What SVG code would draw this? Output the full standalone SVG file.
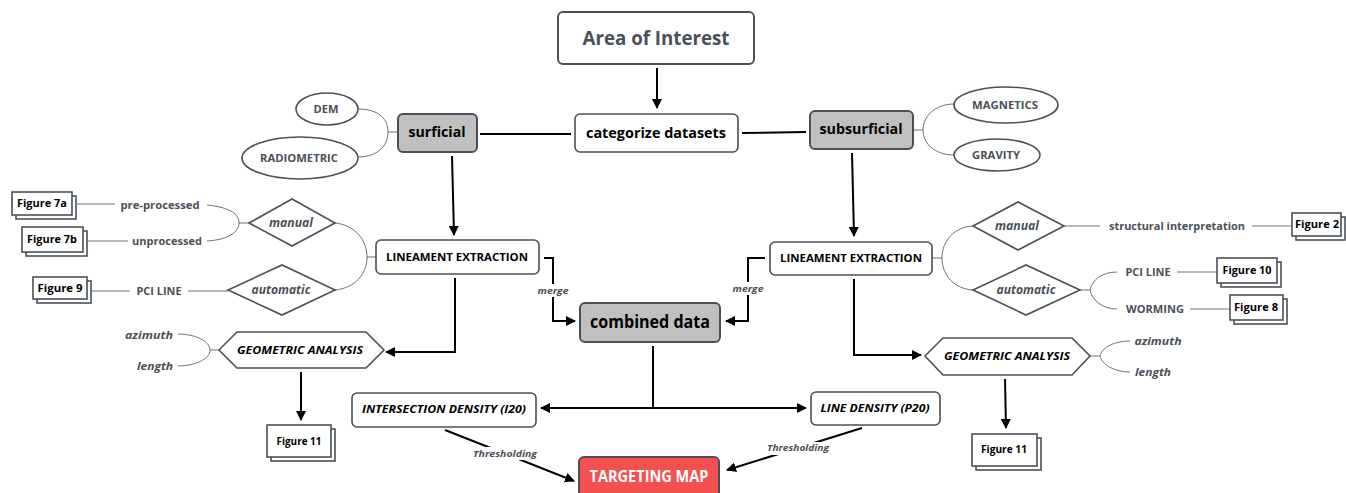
<svg xmlns="http://www.w3.org/2000/svg" width="1346" height="493" viewBox="0 0 1346 493">
<defs>
<marker id="ah" viewBox="0 0 10 10" refX="9" refY="5" markerWidth="10" markerHeight="10" markerUnits="userSpaceOnUse" orient="auto"><path d="M0,0 L10,5 L0,10 z" fill="#000"/></marker>
<style>
text{font-family:"Open Sans","Liberation Sans",sans-serif;font-weight:700;text-anchor:middle}
.box{fill:#fff;stroke:#4a5058;stroke-width:2}
.grey{fill:#c0c0c0;stroke:#4a5058;stroke-width:2}
.shape{fill:#fff;stroke:#4a5058;stroke-width:1.6}
.fig{fill:#fff;stroke:#4a5058;stroke-width:1.6}
.conn{fill:none;stroke:#000;stroke-width:2}
.thin{fill:none;stroke:#6b7078;stroke-width:1}
.lbl{fill:#4a5058;font-size:11px}
.it{font-style:italic}
.blk{fill:#000}
</style>
</defs>
<rect width="1346" height="493" fill="#fff"/>

<g id="connectors">
<line class="conn" x1="657" y1="68" x2="657" y2="108" marker-end="url(#ah)"/>
<line class="conn" x1="480" y1="134" x2="571" y2="134"/>
<line class="conn" x1="742" y1="133" x2="806" y2="132"/>
<line class="conn" x1="452" y1="156" x2="454" y2="235" marker-end="url(#ah)"/>
<line class="conn" x1="852" y1="153" x2="854" y2="236" marker-end="url(#ah)"/>
<polyline class="conn" points="544,258 553,258 553,321 575,321" marker-end="url(#ah)"/>
<polyline class="conn" points="765,258 748,258 748,321 726,321" marker-end="url(#ah)"/>
<polyline class="conn" points="455,278 455,352 386,352" marker-end="url(#ah)"/>
<polyline class="conn" points="854,279 854,355 921,355" marker-end="url(#ah)"/>
<line class="conn" x1="301" y1="372" x2="301" y2="420" marker-end="url(#ah)"/>
<line class="conn" x1="1005" y1="379" x2="1006" y2="428" marker-end="url(#ah)"/>
<line class="conn" x1="653" y1="346" x2="653" y2="408"/>
<line class="conn" x1="653" y1="408" x2="541" y2="408" marker-end="url(#ah)"/>
<line class="conn" x1="653" y1="408" x2="806" y2="408" marker-end="url(#ah)"/>
<line class="conn" x1="445" y1="430" x2="574" y2="481" marker-end="url(#ah)"/>
<line class="conn" x1="862" y1="428" x2="727" y2="470" marker-end="url(#ah)"/>
<rect x="535" y="284" width="36" height="13" fill="#fff"/>
<rect x="730" y="282" width="36" height="13" fill="#fff"/>
<rect x="470" y="447" width="70" height="13" fill="#fff"/>
<rect x="764" y="442" width="68" height="13" fill="#fff"/>
<text class="lbl it" x="553" y="294" font-size="9.5" textLength="31" lengthAdjust="spacingAndGlyphs" style="font-size:9.5px">merge</text>
<text class="lbl it" x="748" y="292" textLength="31" lengthAdjust="spacingAndGlyphs" style="font-size:9.5px">merge</text>
<text class="lbl it" x="505" y="457" textLength="64" lengthAdjust="spacingAndGlyphs" style="font-size:9.5px">Thresholding</text>
<text class="lbl it" x="798" y="451" textLength="62" lengthAdjust="spacingAndGlyphs" style="font-size:9.5px">Thresholding</text>

<!-- thin tree connectors -->
<path class="thin" d="M398,132 H388 C388,116 375,109 358,109 M388,132 C388,148 375,157 358,157"/>
<path class="thin" d="M913,130 H923 C923,114 938,104 954,104 M923,130 C923,146 938,155 954,155"/>
<path class="thin" d="M77,204 H115 M207,205 C226,207 239,212 239,223 C239,233 226,240 207,241 M239,223 H249 M87,241 H128"/>
<path class="thin" d="M91,291 H130 M188,291 H228"/>
<path class="thin" d="M335,223 C355,225 367,240 367,257 C367,274 355,288 335,290 M367,257 H376"/>
<path class="thin" d="M932,258 H942 C942,240 955,227 973,226 M942,258 C942,276 955,289 973,290"/>
<path class="thin" d="M1064,226 H1100 M1252,226 H1292"/>
<path class="thin" d="M1080,290 H1090 C1092,280 1102,272 1117,272 M1090,290 C1092,300 1102,309 1117,309 M1177,272 H1217 M1190,309 H1230"/>
<path class="thin" d="M219,350 H210 C210,341 195,334 178,334 M210,350 C210,359 195,366 178,366"/>
<path class="thin" d="M1090,356 H1100 C1102,347 1115,341 1130,341 M1100,356 C1102,365 1115,372 1130,372"/>
</g>

<g id="area-of-interest">
<rect class="box" x="558" y="12" width="196" height="52" rx="5"/>
<text x="656" y="45" fill="#4a5058" style="font-size:19px" textLength="147" lengthAdjust="spacingAndGlyphs">Area of Interest</text>
</g>
<g id="categorize">
<rect class="shape" x="575" y="114" width="163" height="38" rx="5"/>
<text class="blk" x="656" y="138" style="font-size:14px" textLength="140" lengthAdjust="spacingAndGlyphs">categorize datasets</text>
</g>
<g id="surficial">
<rect class="grey" x="398" y="114" width="79" height="38" rx="5"/>
<text class="blk" x="437" y="137" style="font-size:15px" textLength="57" lengthAdjust="spacingAndGlyphs">surficial</text>
</g>
<g id="subsurficial">
<rect class="grey" x="810" y="111" width="103" height="38" rx="5"/>
<text class="blk" x="861" y="134" style="font-size:15px" textLength="83" lengthAdjust="spacingAndGlyphs">subsurficial</text>
</g>
<g id="dem">
<ellipse class="shape" cx="327" cy="109" rx="31" ry="16"/>
<text class="lbl" x="326" y="113" textLength="25" lengthAdjust="spacingAndGlyphs">DEM</text>
</g>
<g id="radiometric">
<ellipse class="shape" cx="300" cy="158" rx="58" ry="21"/>
<text class="lbl" x="299" y="162" textLength="78" lengthAdjust="spacingAndGlyphs">RADIOMETRIC</text>
</g>
<g id="magnetics">
<ellipse class="shape" cx="1006" cy="105" rx="52" ry="18"/>
<text class="lbl" x="1005" y="109" textLength="66" lengthAdjust="spacingAndGlyphs">MAGNETICS</text>
</g>
<g id="gravity">
<ellipse class="shape" cx="997" cy="155" rx="43" ry="16"/>
<text class="lbl" x="996" y="159" textLength="48" lengthAdjust="spacingAndGlyphs">GRAVITY</text>
</g>

<g id="lineament-left">
<rect class="shape" x="376" y="240" width="163" height="34" rx="5"/>
<text class="blk" x="457" y="261" style="font-size:11px" textLength="142" lengthAdjust="spacingAndGlyphs">LINEAMENT EXTRACTION</text>
</g>
<g id="lineament-right">
<rect class="shape" x="770" y="242" width="162" height="33" rx="5"/>
<text class="blk" x="851" y="262" style="font-size:11px" textLength="142" lengthAdjust="spacingAndGlyphs">LINEAMENT EXTRACTION</text>
</g>

<g id="manual-left">
<polygon class="shape" points="249,223 292,199 335,223 292,246"/>
<text class="lbl it" x="291" y="227" style="font-size:11.5px" textLength="44" lengthAdjust="spacingAndGlyphs">manual</text>
</g>
<g id="automatic-left">
<polygon class="shape" points="228,290 282,265 335,290 282,315"/>
<text class="lbl it" x="281" y="294" style="font-size:11.5px" textLength="59" lengthAdjust="spacingAndGlyphs">automatic</text>
</g>
<g id="manual-right">
<polygon class="shape" points="973,226 1018,202 1064,226 1018,250"/>
<text class="lbl it" x="1017" y="230" style="font-size:11.5px" textLength="44" lengthAdjust="spacingAndGlyphs">manual</text>
</g>
<g id="automatic-right">
<polygon class="shape" points="973,290 1026,265 1080,290 1026,315"/>
<text class="lbl it" x="1026" y="294" style="font-size:11.5px" textLength="59" lengthAdjust="spacingAndGlyphs">automatic</text>
</g>

<g id="labels-left">
<text class="lbl" x="160" y="209" textLength="79" lengthAdjust="spacingAndGlyphs">pre-processed</text>
<text class="lbl" x="167" y="245" textLength="70" lengthAdjust="spacingAndGlyphs">unprocessed</text>
<text class="lbl" x="159" y="295" textLength="45" lengthAdjust="spacingAndGlyphs">PCI LINE</text>
<text class="lbl it" x="149" y="339" textLength="48" lengthAdjust="spacingAndGlyphs">azimuth</text>
<text class="lbl it" x="155" y="370" textLength="36" lengthAdjust="spacingAndGlyphs">length</text>
</g>
<g id="labels-right">
<text class="lbl" x="1177" y="230" textLength="136" lengthAdjust="spacingAndGlyphs">structural interpretation</text>
<text class="lbl" x="1148" y="276" textLength="45" lengthAdjust="spacingAndGlyphs">PCI LINE</text>
<text class="lbl" x="1155" y="313" textLength="58" lengthAdjust="spacingAndGlyphs">WORMING</text>
<text class="lbl it" x="1158" y="345" textLength="47" lengthAdjust="spacingAndGlyphs">azimuth</text>
<text class="lbl it" x="1153" y="376" textLength="36" lengthAdjust="spacingAndGlyphs">length</text>
</g>

<g id="figure-7a">
<rect class="fig" x="16" y="196" width="60" height="23"/>
<rect class="fig" x="12" y="192" width="60" height="23"/>
<text class="blk" x="42" y="207" style="font-size:11px" textLength="50" lengthAdjust="spacingAndGlyphs">Figure 7a</text>
</g>
<g id="figure-7b">
<rect class="fig" x="26" y="231" width="61" height="25"/>
<rect class="fig" x="22" y="227" width="61" height="25"/>
<text class="blk" x="52" y="243" style="font-size:11px" textLength="50" lengthAdjust="spacingAndGlyphs">Figure 7b</text>
</g>
<g id="figure-9">
<rect class="fig" x="37" y="281" width="54" height="22"/>
<rect class="fig" x="33" y="277" width="54" height="22"/>
<text class="blk" x="60" y="292" style="font-size:11px" textLength="45" lengthAdjust="spacingAndGlyphs">Figure 9</text>
</g>
<g id="figure-2">
<rect class="fig" x="1296" y="217" width="49" height="23"/>
<rect class="fig" x="1292" y="213" width="49" height="23"/>
<text class="blk" x="1317" y="228" style="font-size:11px" textLength="44" lengthAdjust="spacingAndGlyphs">Figure 2</text>
</g>
<g id="figure-10">
<rect class="fig" x="1221" y="262" width="60" height="25"/>
<rect class="fig" x="1217" y="258" width="60" height="25"/>
<text class="blk" x="1247" y="274" style="font-size:11px" textLength="49" lengthAdjust="spacingAndGlyphs">Figure 10</text>
</g>
<g id="figure-8">
<rect class="fig" x="1234" y="299" width="53" height="25"/>
<rect class="fig" x="1230" y="295" width="53" height="25"/>
<text class="blk" x="1256" y="311" style="font-size:11px" textLength="44" lengthAdjust="spacingAndGlyphs">Figure 8</text>
</g>

<g id="geometric-left">
<polygon class="shape" points="219,350 237,332 366,332 384,350 366,368 237,368"/>
<text class="blk it" x="300" y="354" style="font-size:11px" textLength="126" lengthAdjust="spacingAndGlyphs">GEOMETRIC ANALYSIS</text>
</g>
<g id="geometric-right">
<polygon class="shape" points="925,356 943,338 1072,338 1090,356 1072,375 943,375"/>
<text class="blk it" x="1007" y="360" style="font-size:11px" textLength="126" lengthAdjust="spacingAndGlyphs">GEOMETRIC ANALYSIS</text>
</g>
<g id="figure-11-left">
<rect class="fig" x="271" y="429" width="64" height="32"/>
<rect class="fig" x="267" y="425" width="64" height="32"/>
<text class="blk" x="299" y="445" style="font-size:11px" textLength="45" lengthAdjust="spacingAndGlyphs">Figure 11</text>
</g>
<g id="figure-11-right">
<rect class="fig" x="976" y="438" width="65" height="32"/>
<rect class="fig" x="972" y="434" width="65" height="32"/>
<text class="blk" x="1004" y="453" style="font-size:11px" textLength="46" lengthAdjust="spacingAndGlyphs">Figure 11</text>
</g>

<g id="combined-data">
<rect class="grey" x="580" y="303" width="140" height="39" rx="5"/>
<text class="blk" x="650" y="328" style="font-size:18px" textLength="120" lengthAdjust="spacingAndGlyphs">combined data</text>
</g>
<g id="intersection-density">
<rect class="shape" x="352" y="393" width="184" height="34" rx="5"/>
<text class="blk it" x="444" y="413" style="font-size:11px" textLength="164" lengthAdjust="spacingAndGlyphs">INTERSECTION DENSITY (I20)</text>
</g>
<g id="line-density">
<rect class="shape" x="811" y="392" width="129" height="33" rx="5"/>
<text class="blk it" x="875" y="412" style="font-size:11px" textLength="109" lengthAdjust="spacingAndGlyphs">LINE DENSITY (P20)</text>
</g>
<g id="targeting-map">
<rect x="579" y="457" width="140" height="44" rx="5" fill="#f55050" stroke="#4a5058" stroke-width="2"/>
<text x="649" y="482" fill="#fff" style="font-size:16px" textLength="119" lengthAdjust="spacingAndGlyphs">TARGETING MAP</text>
</g>
</svg>
